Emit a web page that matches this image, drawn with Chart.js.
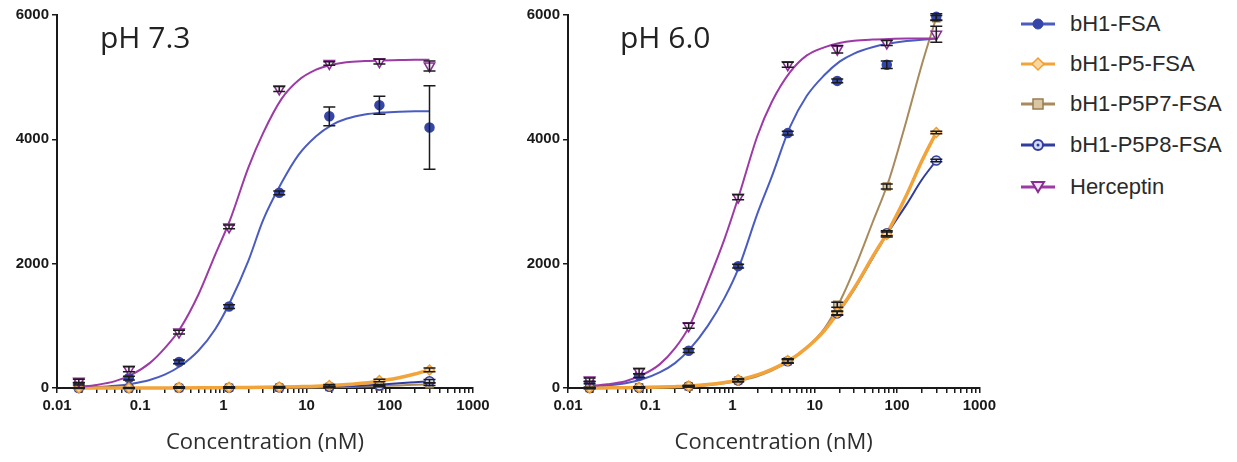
<!DOCTYPE html>
<html>
<head>
<meta charset="utf-8">
<script src="https://cdn.jsdelivr.net/npm/chart.js@4.4.0/dist/chart.umd.min.js"></script>
<style>
  body { margin: 0; background: #fff; }
  #wrap { position: relative; width: 1237px; height: 462px; overflow: hidden; background: #fff; }
  canvas { position: absolute; top: 0; }
  #c1 { left: 0; }
  #c2 { left: 500px; }
  .ph { position: absolute; font-family: 'Open Sans', sans-serif; font-size: 30px; color: #222; line-height: 1; }
  #legend { position: absolute; left: 1020px; top: 0; font-family: 'Liberation Sans', Arial, sans-serif; font-size: 22px; color: #2a2a2a; }
  .item { position: absolute; left: 0; height: 30px; display: flex; align-items: center; white-space: nowrap; }
  .item svg { margin-right: 14px; }
</style>
</head>
<body>
<div id="wrap">
  <canvas id="c1" width="495" height="462"></canvas>
  <canvas id="c2" width="500" height="462"></canvas>
  <div class="ph" style="left:100px; top:22px;">pH 7.3</div>
  <div class="ph" style="left:620px; top:22px;">pH 6.0</div>
  <div id="legend"></div>
</div>
<script>
// concentrations (nM), 4-fold dilutions
const conc = [0.0183, 0.0732, 0.293, 1.17, 4.69, 18.75, 75, 300];
const fitConc = [0.018, 0.03, 0.05, 0.08, 0.13, 0.2, 0.3, 0.5, 0.8, 1.2, 2, 3, 5, 8, 13, 20, 30, 50, 80, 130, 200, 300];

const seriesNames = ['bH1-FSA', 'bH1-P5-FSA', 'bH1-P5P7-FSA', 'bH1-P5P8-FSA', 'Herceptin'];

// ---- pH 7.3 ----
const bh1_73 = [70, 160, 420, 1310, 3140, 4370, 4550, 4190];
const p5_73 = [0, 0, 10, 10, 15, 40, 120, 290];
const p5p7_73 = [0, 0, 0, 5, 5, 15, 30, 60];
const p5p8_73 = [0, 0, 5, 5, 10, 20, 40, 110];
const her_73 = [110, 300, 900, 2590, 4810, 5220, 5250, 5180];

const bh1_73_err = [20, 30, 30, 30, 30, 150, 145, 670];
const p5_73_err = [10, 10, 10, 10, 10, 15, 20, 30];
const p5p7_73_err = [5, 5, 5, 5, 5, 10, 10, 20];
const p5p8_73_err = [5, 5, 5, 5, 5, 10, 15, 25];
const her_73_err = [30, 40, 30, 30, 40, 30, 40, 80];

const bh1_73_fit = [5, 15, 35, 70, 130, 220, 350, 600, 950, 1380, 2050, 2700, 3300, 3750, 4050, 4230, 4330, 4400, 4430, 4445, 4450, 4450];
const p5_73_fit = [0, 0, 0, 0, 1, 1, 2, 3, 4, 6, 8, 11, 16, 22, 30, 42, 55, 80, 118, 165, 225, 290];
const p5p7_73_fit = [0, 0, 0, 0, 0, 0, 1, 1, 2, 2, 3, 4, 5, 7, 9, 12, 17, 25, 33, 42, 52, 60];
const p5p8_73_fit = [0, 0, 0, 0, 0, 1, 1, 2, 3, 4, 5, 7, 9, 12, 15, 20, 28, 42, 57, 75, 93, 110];
const her_73_fit = [20, 50, 110, 220, 400, 650, 950, 1500, 2150, 2700, 3550, 4100, 4650, 4950, 5120, 5200, 5240, 5260, 5270, 5275, 5280, 5280];

// ---- pH 6.0 ----
const bh1_60 = [90, 200, 600, 1960, 4100, 4940, 5200, 5970];
const p5_60 = [0, 10, 30, 130, 440, 1210, 2470, 4110];
const p5p7_60 = [0, 10, 25, 120, 430, 1340, 3240, 5950];
const p5p8_60 = [0, 5, 30, 120, 430, 1200, 2490, 3660];
const her_60 = [130, 270, 1000, 3070, 5200, 5450, 5550, 5690];

const bh1_60_err = [20, 30, 30, 30, 30, 30, 60, 50];
const p5_60_err = [10, 10, 10, 20, 30, 30, 40, 20];
const p5p7_60_err = [10, 10, 10, 20, 30, 40, 40, 40];
const p5p8_60_err = [10, 10, 10, 20, 30, 30, 40, 20];
const her_60_err = [30, 40, 40, 40, 40, 60, 40, 130];

const bh1_60_fit = [20, 40, 75, 140, 250, 400, 620, 1000, 1450, 1950, 2800, 3400, 4200, 4700, 5030, 5250, 5380, 5480, 5540, 5580, 5600, 5620];
const p5_60_fit = [0, 2, 5, 10, 15, 22, 32, 55, 90, 130, 210, 300, 450, 650, 920, 1250, 1600, 2100, 2550, 3100, 3650, 4110];
const p5p7_60_fit = [0, 1, 3, 6, 10, 16, 25, 45, 75, 115, 190, 280, 440, 650, 950, 1380, 1900, 2650, 3350, 4300, 5200, 5960];
const p5p8_60_fit = [0, 2, 5, 10, 15, 22, 32, 55, 90, 130, 210, 300, 450, 650, 920, 1240, 1580, 2080, 2530, 2950, 3350, 3660];
const her_60_fit = [30, 60, 110, 210, 380, 640, 1000, 1700, 2400, 3100, 4050, 4600, 5080, 5350, 5480, 5550, 5585, 5605, 5615, 5620, 5620, 5620];

// axis ticks
const xMajor = [0.01, 0.1, 1, 10, 100, 1000];
const xMajorLabels = ['0.01', '0.1', '1', '10', '100', '1000'];
const yTicks = [0, 2000, 4000, 6000];

// styles per series
const lineColors = ['#4b5cc0', '#f2a33a', '#a88a5c', '#2f3d9e', '#9c3aa6'];
const lineWidths = [2, 3.5, 2, 2, 2];
// drawing order (lower = on top): orange P5 sits above P5P7/P5P8
const drawOrder = [2, 1, 4, 3, 0];
const markStyle = [
  { pointStyle: 'circle', bg: '#3546a8', border: '#3546a8', r: 4.5, rot: 0 },
  { pointStyle: 'rectRot', bg: '#f8d7a2', border: '#f0a030', r: 5, rot: 0 },
  { pointStyle: 'rect', bg: '#d8c6a4', border: '#9a7c50', r: 5, rot: 0 },
  { pointStyle: 'circle', bg: '#d8dcf2', border: '#2f3d9e', r: 4.5, rot: 0 },
  { pointStyle: 'triangle', bg: '#f3e6f5', border: '#8a2c94', r: 6, rot: 180 }
];

const errorBars = {
  id: 'errorBars',
  afterDatasetsDraw(chart) {
    const ctx = chart.ctx;
    const yScale = chart.scales.y;
    chart.data.datasets.forEach((ds, i) => {
      if (!ds.errors) return;
      const meta = chart.getDatasetMeta(i);
      ctx.save();
      ctx.strokeStyle = '#1b1b1b';
      ctx.lineWidth = 1.5;
      meta.data.forEach((pt, j) => {
        const v = ds.data[j].y, e = ds.errors[j];
        const top = yScale.getPixelForValue(v + e);
        const bot = yScale.getPixelForValue(Math.max(v - e, -40));
        ctx.beginPath();
        ctx.moveTo(pt.x, top); ctx.lineTo(pt.x, bot);
        ctx.moveTo(pt.x - 6, top); ctx.lineTo(pt.x + 6, top);
        ctx.moveTo(pt.x - 6, bot); ctx.lineTo(pt.x + 6, bot);
        ctx.stroke();
      });
      ctx.restore();
    });
  }
};

function buildDatasets(points, errs, fits) {
  const sets = [];
  for (let s = 0; s < points.length; s++) {
    sets.push({
      label: seriesNames[s] + ' fit',
      data: fitConc.map((c, i) => ({ x: c, y: fits[s][i] })),
      borderColor: lineColors[s],
      borderWidth: lineWidths[s],
      pointRadius: 0,
      cubicInterpolationMode: 'monotone',
      fill: false,
      clip: false,
      order: 10 + drawOrder[s]
    });
  }
  for (let s = 0; s < points.length; s++) {
    const m = markStyle[s];
    sets.push({
      label: seriesNames[s],
      data: conc.map((c, i) => ({ x: c, y: points[s][i] })),
      errors: errs[s],
      showLine: false,
      pointStyle: m.pointStyle,
      pointRotation: m.rot,
      pointRadius: m.r,
      pointBackgroundColor: m.bg,
      pointBorderColor: m.border,
      pointBorderWidth: 1.5,
      clip: false,
      order: drawOrder[s]
    });
  }
  return sets;
}

function makeChart(id, points, errs, fits, yWidth, padRight) {
  const tickFont = { family: "'Liberation Sans', Arial, sans-serif", size: 15, weight: 'bold' };
  new Chart(document.getElementById(id), {
    type: 'line',
    data: { datasets: buildDatasets(points, errs, fits) },
    options: {
      responsive: false,
      animation: false,
      devicePixelRatio: 1,
      layout: { padding: { top: 15, right: padRight, left: 0, bottom: 0 } },
      plugins: { legend: { display: false }, tooltip: { enabled: false } },
      events: [],
      scales: {
        x: {
          type: 'logarithmic',
          min: 0.01,
          max: 1000,
          afterBuildTicks(scale) {
            const t = [];
            for (let n = -2; n <= 2; n++) {
              for (let k = 1; k <= 9; k++) t.push({ value: Number((k * Math.pow(10, n)).toPrecision(3)) });
            }
            t.push({ value: 1000 });
            scale.ticks = t;
          },
          afterFit(scale) { scale.height = 74; },
          ticks: {
            autoSkip: false,
            maxRotation: 0,
            minRotation: 0,
            padding: 4,
            color: '#1a1a1a',
            font: tickFont,
            callback(v) {
              const idx = xMajor.findIndex(m => Math.abs(m - v) < m * 1e-6);
              return idx >= 0 ? xMajorLabels[idx] : '';
            }
          },
          grid: { drawOnChartArea: false, drawTicks: true, tickLength: 5, color: '#1a1a1a', lineWidth: 1.5 },
          border: { display: true, color: '#1a1a1a', width: 2 },
          title: {
            display: true,
            text: 'Concentration (nM)',
            color: '#2e2e2e',
            font: { family: "'Open Sans', sans-serif", size: 22 },
            padding: { top: 0, bottom: 6 }
          }
        },
        y: {
          min: 0,
          max: 6000,
          afterBuildTicks(scale) { scale.ticks = yTicks.map(v => ({ value: v })); },
          afterFit(scale) { scale.width = yWidth; },
          ticks: {
            padding: 3,
            color: '#1a1a1a',
            font: tickFont,
            callback: v => String(v)
          },
          grid: { drawOnChartArea: false, drawTicks: true, tickLength: 5, color: '#1a1a1a', lineWidth: 1.5 },
          border: { display: true, color: '#1a1a1a', width: 2 }
        }
      }
    },
    plugins: [errorBars]
  });
}

makeChart('c1',
  [bh1_73, p5_73, p5p7_73, p5p8_73, her_73],
  [bh1_73_err, p5_73_err, p5p7_73_err, p5p8_73_err, her_73_err],
  [bh1_73_fit, p5_73_fit, p5p7_73_fit, p5p8_73_fit, her_73_fit],
  57, 22);

makeChart('c2',
  [bh1_60, p5_60, p5p7_60, p5p8_60, her_60],
  [bh1_60_err, p5_60_err, p5p7_60_err, p5p8_60_err, her_60_err],
  [bh1_60_fit, p5_60_fit, p5p7_60_fit, p5p8_60_fit, her_60_fit],
  68, 15);

// legend (html, line + marker + name)
const legendY = [24, 64, 104, 145, 187];
const legendMarks = [
  '<circle cx="18" cy="10" r="5" fill="#3546a8" stroke="#3546a8"/>',
  '<path d="M18 4 L24 10 L18 16 L12 10 Z" fill="#f8d7a2" stroke="#f0a030" stroke-width="1.5"/>',
  '<rect x="13" y="5" width="10" height="10" fill="#d8c6a4" stroke="#9a7c50" stroke-width="1.5"/>',
  '<circle cx="18" cy="10" r="5" fill="#d8dcf2" stroke="#2f3d9e" stroke-width="2"/><circle cx="18" cy="10" r="1.5" fill="#2f3d9e"/>',
  '<path d="M12 5 L24 5 L18 15 Z" fill="#f3e6f5" stroke="#8a2c94" stroke-width="2"/>'
];
const legend = document.getElementById('legend');
seriesNames.forEach((name, i) => {
  const div = document.createElement('div');
  div.className = 'item';
  div.style.top = (legendY[i] - 15) + 'px';
  div.innerHTML = '<svg width="36" height="20" viewBox="0 0 36 20"><line x1="1" y1="10" x2="35" y2="10" stroke="' +
    lineColors[i] + '" stroke-width="3"/>' + legendMarks[i] + '</svg><span>' + name + '</span>';
  legend.appendChild(div);
});
</script>
</body>
</html>
